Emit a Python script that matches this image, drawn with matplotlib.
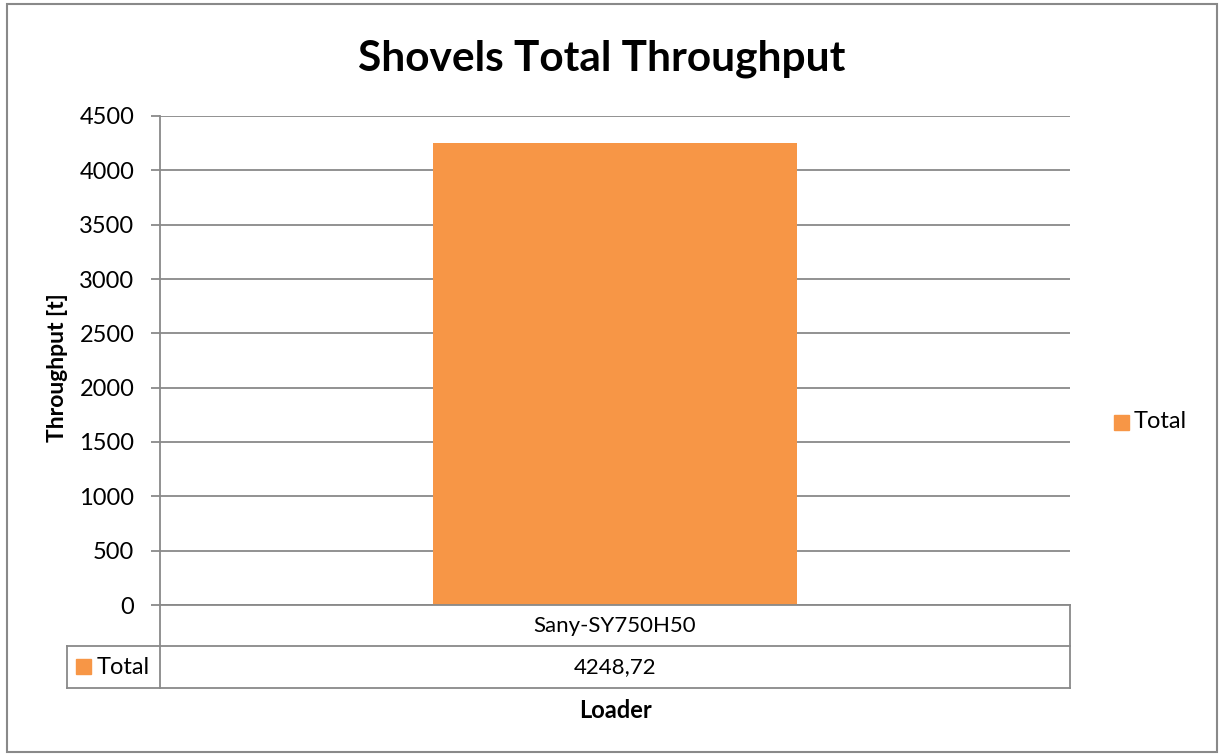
import matplotlib.pyplot as plt
from matplotlib.lines import Line2D
from matplotlib.patches import Rectangle

plt.rcParams["font.family"] = ["Lato", "DejaVu Sans"]

loaders = ["Sany-SY750H50"]
throughput = [4248.72]
series_name = "Total"
yticks = [0, 500, 1000, 1500, 2000, 2500, 3000, 3500, 4000, 4500]

W, H = 1222, 754
bar_color = "#F79646"
line_color = "#898989"

fig = plt.figure(figsize=(W / 100, H / 100), dpi=100)


def fx(x):
    return x / W


def fy(y):
    return 1 - y / H


# plot area in pixel coords
L, R, T, B = 160, 1070, 116, 605
ax = fig.add_axes([fx(L), fy(B), fx(R - L), (B - T) / H])

x = range(len(loaders))
ax.bar(x, throughput, width=0.4, color=bar_color, zorder=3)
ax.set_xlim(-0.5, len(loaders) - 0.5)
ax.set_ylim(0, 4500)
ax.set_yticks(yticks)
ax.set_yticklabels([str(t) for t in yticks], fontsize=17)
ax.set_xticks([])
ax.yaxis.grid(True, color=line_color, linewidth=1.3, zorder=0)
for s in ["top", "right", "bottom"]:
    ax.spines[s].set_visible(False)
ax.spines["left"].set_color(line_color)
ax.spines["left"].set_linewidth(1.3)
ax.tick_params(axis="y", length=6.5, color=line_color, width=1.3, pad=12)

# data table below the plot
row1, row2, row3 = 605, 646, 688
tab_left = 67
segs = [
    ((L, R), (row1, row1)),
    ((tab_left, R), (row2, row2)),
    ((tab_left, R), (row3, row3)),
    ((tab_left, tab_left), (row2, row3)),
    ((L, L), (row1, row3)),
    ((R, R), (row1, row3)),
]
for xs, ys in segs:
    fig.add_artist(Line2D([fx(xs[0]), fx(xs[1])], [fy(ys[0]), fy(ys[1])],
                          color=line_color, linewidth=1.3))

cell_w = (R - L) / len(loaders)
for i, (name, val) in enumerate(zip(loaders, throughput)):
    cx = L + cell_w * (i + 0.5)
    fig.text(fx(cx), fy((row1 + row2) / 2), name, ha="center", va="center", fontsize=16)
    fig.text(fx(cx), fy((row2 + row3) / 2), f"{val:.2f}".replace(".", ","),
             ha="center", va="center", fontsize=16)

# legend key inside table
fig.add_artist(Rectangle((fx(76), fy(674)), fx(15), 15 / H, color=bar_color))
fig.text(fx(97), fy((row2 + row3) / 2), series_name, ha="left", va="center", fontsize=17)

# right legend
fig.add_artist(Rectangle((fx(1114), fy(430)), fx(15), 15 / H, color=bar_color))
fig.text(fx(1134), fy(422), series_name, ha="left", va="center", fontsize=17)

# titles
fig.text(fx(602), fy(70), "Shovels Total Throughput", ha="center", va="baseline",
         fontsize=30.5, fontweight="bold")
fig.text(fx(57), fy((T + B) / 2 + 7), "Throughput [t]", ha="center", va="center",
         rotation=90, fontsize=16.5, fontweight="bold")
fig.text(fx(615), fy(711), "Loader", ha="center", va="center", fontsize=17,
         fontweight="bold")

# outer chart border
fig.add_artist(Rectangle((fx(7), fy(752)), fx(1210), 748 / H, fill=False,
                         edgecolor=line_color, linewidth=1.5))

fig.savefig("out.png", dpi=100)
